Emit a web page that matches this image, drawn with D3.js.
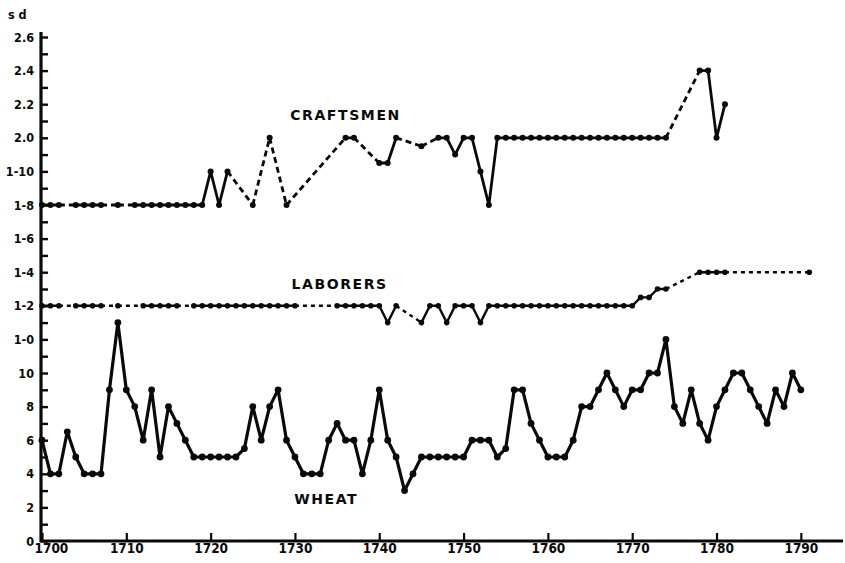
<!DOCTYPE html>
<html>
<head>
<meta charset="utf-8">
<script src="https://cdn.jsdelivr.net/npm/d3@7"></script>
<style>
  body { margin: 0; background: #fff; }
  svg text { font-family: "DejaVu Sans Condensed", "DejaVu Sans", sans-serif; font-weight: bold; fill: #0a0a0a; }
  .series-label { font-family: "DejaVu Sans", sans-serif; font-size: 14px; letter-spacing: 1.6px; }
</style>
</head>
<body>
<div id="chart"></div>
<script>
  // years 1700..1791, values in pence (null = no figure)
  const years = d3.range(1700, 1792);

  const wheat = [
    6, 4, 4, 6.5, 5, 4, 4, 4, 9, 13,
    9, 8, 6, 9, 5, 8, 7, 6, 5, 5,
    5, 5, 5, 5, 5.5, 8, 6, 8, 9, 6,
    5, 4, 4, 4, 6, 7, 6, 6, 4, 6,
    9, 6, 5, 3, 4, 5, 5, 5, 5, 5,
    5, 6, 6, 6, 5, 5.5, 9, 9, 7, 6,
    5, 5, 5, 6, 8, 8, 9, 10, 9, 8,
    9, 9, 10, 10, 12, 8, 7, 9, 7, 6,
    8, 9, 10, 10, 9, 8, 7, 9, 8, 10,
    9, null
  ];

  const craftsmen = [
    20, 20, 20, null, 20, 20, 20, 20, null, 20,
    null, 20, 20, 20, 20, 20, 20, 20, 20, 20,
    22, 20, 22, null, null, 20, null, 24, null, 20,
    null, null, null, null, null, null, 24, 24, null, null,
    22.5, 22.5, 24, null, null, 23.5, null, 24, 24, 23,
    24, 24, 22, 20, 24, 24, 24, 24, 24, 24,
    24, 24, 24, 24, 24, 24, 24, 24, 24, 24,
    24, 24, 24, 24, 24, null, null, null, 28, 28,
    24, 26, null, null, null, null, null, null, null, null,
    null, null
  ];

  const laborers = [
    14, 14, 14, null, 14, 14, 14, 14, null, 14,
    null, null, 14, 14, 14, 14, 14, null, 14, 14,
    14, 14, 14, 14, 14, 14, 14, 14, 14, 14,
    14, null, null, null, null, 14, 14, 14, 14, 14,
    14, 13, 14, null, null, 13, 14, 14, 13, 14,
    14, 14, 13, 14, 14, 14, 14, 14, 14, 14,
    14, 14, 14, 14, 14, 14, 14, 14, 14, 14,
    14, 14.5, 14.5, 15, 15, null, null, null, 16, 16,
    16, 16, null, null, null, null, null, null, null, null,
    null, 16
  ];

  const xTicks = [1700, 1710, 1720, 1730, 1740, 1750, 1760, 1770, 1780, 1790];
  const yTicks = d3.range(0, 31);
  const yLabels = {
    0: "0", 2: "2", 4: "4", 6: "6", 8: "8", 10: "10",
    12: "1-0", 14: "1-2", 16: "1-4", 18: "1-6", 20: "1-8", 22: "1-10",
    24: "2.0", 26: "2.2", 28: "2.4", 30: "2.6"
  };

  const width = 845, height = 563;

  const svg = d3.select("#chart").append("svg")
    .attr("width", width)
    .attr("height", height);

  const x = d3.scaleLinear().domain([1700, 1795]).range([42, 843]);
  const y = d3.scaleLinear().domain([0, 30]).range([541, 37]);

  // axes
  const xAxis = svg.append("g")
    .attr("transform", `translate(0,${y(0)})`)
    .call(d3.axisBottom(x).tickValues(xTicks).tickSize(-8).tickPadding(5).tickFormat(d3.format("d")));
  xAxis.select(".domain").remove();
  xAxis.selectAll(".tick line").attr("stroke", "#0a0a0a").attr("stroke-width", 2.2);
  xAxis.selectAll(".tick text").attr("font-size", 13.5).attr("dy", "0.5em");
  xAxis.selectAll(".tick text").filter(d => d === 1700).attr("text-anchor", "start").attr("x", -8);

  const yAxis = svg.append("g")
    .attr("transform", `translate(${x(1700) - 1},0)`)
    .call(d3.axisLeft(y).tickValues(yTicks).tickSize(-7).tickPadding(7).tickFormat(d => yLabels[d] || ""));
  yAxis.select(".domain").remove();
  yAxis.selectAll(".tick line").attr("stroke", "#0a0a0a").attr("stroke-width", 2.4);
  yAxis.selectAll(".tick text").attr("font-size", 12.5);

  svg.append("line")
    .attr("x1", x(1700) - 1).attr("x2", x(1700) - 1)
    .attr("y1", y(0) + 1).attr("y2", y(30) - 5)
    .attr("stroke", "#0a0a0a").attr("stroke-width", 3.2);
  svg.append("line")
    .attr("x1", x(1700) - 2).attr("x2", x(1795))
    .attr("y1", y(0)).attr("y2", y(0))
    .attr("stroke", "#0a0a0a").attr("stroke-width", 3.2);

  svg.append("text")
    .attr("x", 8).attr("y", 19)
    .attr("font-size", 12.5)
    .text("s d");

  const line = d3.line()
    .defined(d => d.v != null)
    .x(d => x(d.year))
    .y(d => y(d.v));

  function drawSeries(values, opts) {
    const pts = years.map((yr, i) => ({ year: yr, v: values[i] }));
    const known = pts.filter(d => d.v != null);
    const gaps = d3.pairs(known).filter(([a, b]) => b.year - a.year > 1);
    const g = svg.append("g");

    g.append("path")
      .datum(pts)
      .attr("d", line)
      .attr("fill", "none")
      .attr("stroke", "#0a0a0a")
      .attr("stroke-width", opts.width)
      .attr("stroke-linejoin", "round");

    g.selectAll(".gap")
      .data(gaps)
      .join("path")
        .attr("class", "gap")
        .attr("d", d => line(d))
        .attr("fill", "none")
        .attr("stroke", "#0a0a0a")
        .attr("stroke-width", opts.width)
        .attr("stroke-dasharray", opts.dash);

    g.selectAll("circle")
      .data(known)
      .join("circle")
        .attr("cx", d => x(d.year))
        .attr("cy", d => y(d.v))
        .attr("r", opts.r)
        .attr("fill", "#0a0a0a");
  }

  drawSeries(laborers, { width: 2.4, dash: "4,4", r: 2.8 });
  drawSeries(craftsmen, { width: 2.8, dash: "6,4", r: 3 });
  drawSeries(wheat, { width: 3.2, dash: "6,4", r: 3.4 });

  const labels = [
    { text: "CRAFTSMEN", year: 1736, v: 25.05 },
    { text: "LABORERS", year: 1735.3, v: 15.0 },
    { text: "WHEAT", year: 1733.7, v: 2.2 }
  ];
  svg.selectAll(".series-label")
    .data(labels)
    .join("text")
      .attr("class", "series-label")
      .attr("x", d => x(d.year))
      .attr("y", d => y(d.v))
      .attr("text-anchor", "middle")
      .text(d => d.text);
</script>
</body>
</html>
